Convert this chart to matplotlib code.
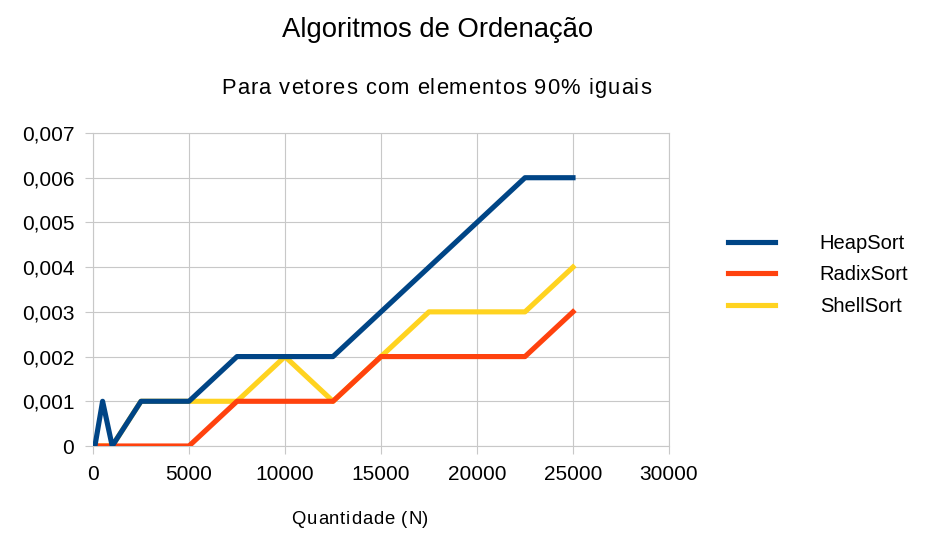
import matplotlib.pyplot as plt
from matplotlib.ticker import FuncFormatter
from matplotlib.font_manager import FontProperties, findfont, get_font

plt.rcParams['font.family'] = ['Liberation Sans', 'DejaVu Sans']

n = [0, 100, 500, 1000, 2500, 5000, 7500, 10000, 12500, 15000, 17500, 20000, 22500, 25000]
heap = [0, 0, 0.001, 0, 0.001, 0.001, 0.002, 0.002, 0.002, 0.003, 0.004, 0.005, 0.006, 0.006]
radix = [0, 0, 0, 0, 0, 0, 0.001, 0.001, 0.001, 0.002, 0.002, 0.002, 0.002, 0.003]
shell = [0, 0, 0, 0, 0.001, 0.001, 0.001, 0.002, 0.001, 0.002, 0.003, 0.003, 0.003, 0.004]

W, H, DPI = 928, 549, 100
GRID = "#c8c8c8"


def spaced_text(fig, cx, cy, s, size, spacing):
    """Draw s centred at pixel (cx, cy) with extra letter spacing in px."""
    font = get_font(findfont(FontProperties(family="Liberation Sans")))
    font.set_size(size, DPI)
    adv = [font.load_char(ord(c)).linearHoriAdvance / 65536 for c in s]
    total = sum(adv) + spacing * (len(s) - 1)
    x = cx - total / 2
    for c, a in zip(s, adv):
        fig.text(x / W, 1 - cy / H, c, ha="left", va="center", fontsize=size)
        x += a + spacing


fig = plt.figure(figsize=(W / DPI, H / DPI), dpi=DPI)
ax = fig.add_axes([93 / W, 1 - 446 / H, 576 / W, 313 / H])

l_heap, = ax.plot(n, heap, color="#004586", lw=3.7, zorder=5, label="HeapSort")
l_radix, = ax.plot(n, radix, color="#ff420e", lw=3.7, zorder=4, label="RadixSort")
l_shell, = ax.plot(n, shell, color="#ffd320", lw=3.7, zorder=3, label="ShellSort")

ax.set_xlim(0, 30000)
ax.set_ylim(0, 0.007)
ax.set_xticks(range(0, 30001, 5000))
ax.set_yticks([i / 1000 for i in range(8)])
ax.yaxis.set_major_formatter(FuncFormatter(
    lambda v, p: "0" if v == 0 else f"{v:.3f}".replace(".", ",")))
ax.grid(True, color=GRID, lw=0.8)
ax.set_axisbelow(True)
for s in ax.spines.values():
    s.set_color(GRID)
    s.set_linewidth(0.8)
ax.tick_params(length=5.5, width=0.8, color=GRID, labelsize=15,
               labelcolor="#000000", pad=8)

fig.text(438 / W, 1 - 30 / H, "Algoritmos de Ordenação", ha="center", va="center",
         fontsize=19.8)
spaced_text(fig, 436, 88, "Para vetores com elementos 90% iguais", 15.8, 1.0)
spaced_text(fig, 360, 519, "Quantidade (N)", 13.3, 0.8)

fig.legend(handles=[l_heap, l_radix, l_shell], loc="center left",
           bbox_to_anchor=(710 / W, 1 - 275 / H), frameon=False,
           fontsize=14.5, handlelength=2.35, handletextpad=2.2,
           labelspacing=0.6)

fig.savefig("out.png", dpi=DPI)
